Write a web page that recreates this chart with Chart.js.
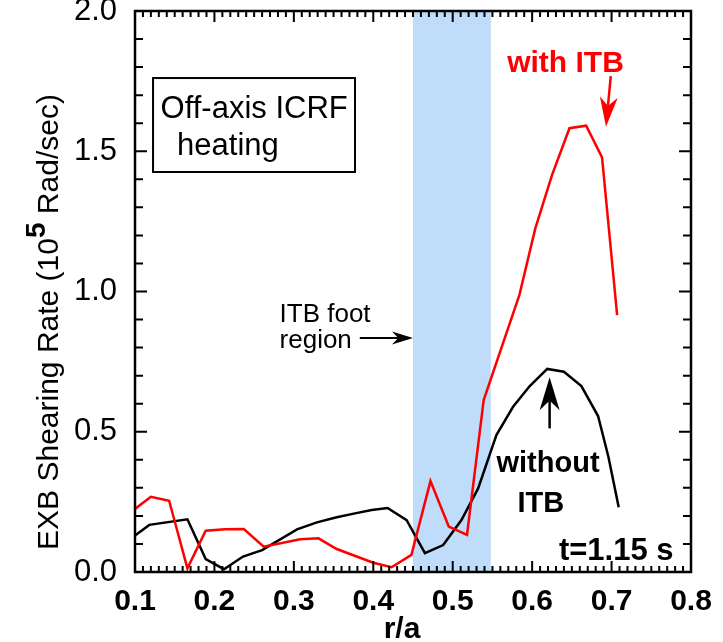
<!DOCTYPE html>
<html>
<head>
<meta charset="utf-8">
<script src="https://cdn.jsdelivr.net/npm/chart.js@4"></script>
<style>
  html, body { margin: 0; padding: 0; background: #fff; overflow: hidden; }
  #wrap { width: 723px; height: 642px; position: relative; }
</style>
</head>
<body>
<div id="wrap"><canvas id="chart"></canvas></div>
<script>
// EXB shearing rate profiles, with / without ITB (t=1.15 s)

const rWith = [0.100, 0.120, 0.143, 0.166, 0.189, 0.213, 0.237, 0.262, 0.308, 0.331, 0.354, 0.400, 0.423,
  0.448, 0.472, 0.495, 0.518, 0.539, 0.584, 0.604, 0.625, 0.647, 0.668, 0.688, 0.707];
const shearWith = [0.225, 0.268, 0.254, 0.013, 0.147, 0.152, 0.153, 0.090, 0.117, 0.120, 0.082, 0.033, 0.017,
  0.061, 0.324, 0.162, 0.132, 0.613, 0.988, 1.225, 1.415, 1.582, 1.591, 1.478, 0.916];

const rWithout = [0.100, 0.118, 0.166, 0.189, 0.212, 0.236, 0.260, 0.304, 0.329, 0.354, 0.377, 0.398, 0.418,
  0.442, 0.465, 0.488, 0.511, 0.532, 0.555, 0.576, 0.597, 0.619, 0.640, 0.662, 0.683, 0.696, 0.709];
const shearWithout = [0.130, 0.168, 0.188, 0.046, 0.010, 0.055, 0.078, 0.152, 0.177, 0.195, 0.209, 0.221, 0.228,
  0.185, 0.067, 0.096, 0.185, 0.298, 0.488, 0.589, 0.663, 0.724, 0.714, 0.663, 0.556, 0.411, 0.231];

// ITB foot region (r/a)
const footRegion = [0.45, 0.548];

const FONT = '"Liberation Sans", Arial, Helvetica, sans-serif';

function toPoints(xs, ys) {
  return xs.map((x, i) => ({ x, y: ys[i] }));
}

function arrow(ctx, x0, y0, x1, y1, len, half, color, lw) {
  const ang = Math.atan2(y1 - y0, x1 - x0);
  ctx.save();
  ctx.strokeStyle = color;
  ctx.fillStyle = color;
  ctx.lineWidth = lw;
  ctx.beginPath();
  ctx.moveTo(x0, y0);
  ctx.lineTo(x1 - Math.cos(ang) * len * 0.7, y1 - Math.sin(ang) * len * 0.7);
  ctx.stroke();
  ctx.translate(x1, y1);
  ctx.rotate(ang);
  ctx.beginPath();
  ctx.moveTo(0, 0);
  ctx.lineTo(-len, -half);
  ctx.lineTo(-len * 0.7, 0);
  ctx.lineTo(-len, half);
  ctx.closePath();
  ctx.fill();
  ctx.restore();
}

function text(ctx, str, x, y, font, color, align) {
  ctx.font = font;
  ctx.fillStyle = color || '#000';
  ctx.textAlign = align || 'center';
  ctx.textBaseline = 'alphabetic';
  ctx.fillText(str, x, y);
}

const decor = {
  id: 'decor',
  beforeDatasetsDraw(chart) {
    const { ctx, chartArea: a, scales: { x } } = chart;
    const x0 = x.getPixelForValue(footRegion[0]);
    const x1 = x.getPixelForValue(footRegion[1]);
    ctx.save();
    ctx.fillStyle = '#bfddfa';
    ctx.fillRect(x0, a.top, x1 - x0, a.bottom - a.top);
    ctx.restore();
  },
  afterDraw(chart) {
    const { ctx, chartArea: a, scales: { x, y } } = chart;
    const px = v => x.getPixelForValue(v);
    const py = v => y.getPixelForValue(v);
    ctx.save();

    // frame + inward ticks on all four sides
    ctx.strokeStyle = '#000';
    ctx.lineWidth = 2.5;
    ctx.strokeRect(a.left, a.top, a.right - a.left, a.bottom - a.top);
    ctx.lineWidth = 2;
    ctx.beginPath();
    for (let i = 0; i <= 70; i++) {
      const xp = px(0.1 + i * 0.01);
      const len = i % 10 === 0 ? 11 : 6;
      ctx.moveTo(xp, a.bottom); ctx.lineTo(xp, a.bottom - len);
      ctx.moveTo(xp, a.top); ctx.lineTo(xp, a.top + len);
    }
    for (let i = 0; i <= 20; i++) {
      const yp = py(i * 0.1);
      const len = i % 5 === 0 ? 12 : 8;
      ctx.moveTo(a.left, yp); ctx.lineTo(a.left + len, yp);
      ctx.moveTo(a.right, yp); ctx.lineTo(a.right - len, yp);
    }
    ctx.stroke();

    // y axis title with superscript
    const parts = [['EXB Shearing Rate (10', '30px ' + FONT, 0], ['5', 'bold 28px ' + FONT, -13], [' Rad/sec)', '30px ' + FONT, 0]];
    ctx.save();
    ctx.translate(58, 322);
    ctx.rotate(-Math.PI / 2);
    let total = 0;
    parts.forEach(p => { ctx.font = p[1]; total += ctx.measureText(p[0]).width; });
    let cx = -total / 2;
    ctx.fillStyle = '#000';
    ctx.textAlign = 'left';
    ctx.textBaseline = 'alphabetic';
    parts.forEach(p => { ctx.font = p[1]; ctx.fillText(p[0], cx, p[2]); cx += ctx.measureText(p[0]).width; });
    ctx.restore();

    // x axis title
    text(ctx, 'r/a', 402, 638, 'bold 30px ' + FONT);

    // heating box
    ctx.lineWidth = 2;
    const bx0 = px(0.1227), bx1 = px(0.377), by0 = py(1.761), by1 = py(1.426);
    ctx.strokeRect(bx0, by0, bx1 - bx0, by1 - by0);
    text(ctx, 'Off-axis ICRF', px(0.250), py(1.619), '31px ' + FONT);
    text(ctx, 'heating', px(0.217), py(1.487), '31px ' + FONT);

    // with ITB
    text(ctx, 'with ITB', px(0.642), py(1.783), 'bold 30px ' + FONT, '#ff0000');
    arrow(ctx, px(0.699), py(1.768), px(0.693), py(1.587), 30, 9, '#ff0000', 2.5);

    // without ITB
    text(ctx, 'without', px(0.620), py(0.357), 'bold 29px ' + FONT);
    text(ctx, 'ITB', px(0.611), py(0.214), 'bold 29px ' + FONT);
    arrow(ctx, px(0.622), py(0.512), px(0.622), py(0.694), 33, 10, '#000', 2.5);

    // ITB foot region
    text(ctx, 'ITB foot', px(0.282), py(0.891), '26px ' + FONT, '#000', 'left');
    text(ctx, 'region', px(0.282), py(0.799), '26px ' + FONT, '#000', 'left');
    arrow(ctx, px(0.383), py(0.834), px(0.450), py(0.834), 21, 6.5, '#000', 2);

    // time stamp
    text(ctx, 't=1.15 s', px(0.778), py(0.043), 'bold 31px ' + FONT, '#000', 'right');

    ctx.restore();
  }
};

new Chart(document.getElementById('chart'), {
  type: 'line',
  data: {
    datasets: [
      { label: 'with ITB', data: toPoints(rWith, shearWith), borderColor: '#ff0000', borderWidth: 2.5, pointRadius: 0, tension: 0, fill: false },
      { label: 'without ITB', data: toPoints(rWithout, shearWithout), borderColor: '#000000', borderWidth: 2.5, pointRadius: 0, tension: 0, fill: false },
    ],
  },
  options: {
    responsive: true,
    maintainAspectRatio: false,
    animation: false,
    events: [],
    layout: { padding: { left: 0, right: 32, top: 11, bottom: 0 } },
    plugins: { legend: { display: false }, tooltip: { enabled: false } },
    scales: {
      x: {
        type: 'linear',
        min: 0.1,
        max: 0.8,
        grid: { display: false },
        border: { display: false },
        ticks: {
          stepSize: 0.1,
          padding: 4,
          color: '#000',
          font: { family: FONT, size: 30, weight: 'bold' },
          callback: v => Number(v).toFixed(1),
        },
        afterFit(scale) { scale.height = 70; scale.paddingLeft = 0; scale.paddingRight = 0; },
      },
      y: {
        type: 'linear',
        min: 0,
        max: 2,
        grid: { display: false },
        border: { display: false },
        ticks: {
          stepSize: 0.5,
          padding: 10,
          color: '#000',
          font: { family: FONT, size: 31 },
          callback: v => Number(v).toFixed(1),
        },
        afterFit(scale) { scale.width = 135; scale.paddingTop = 0; scale.paddingBottom = 0; },
      },
    },
  },
  plugins: [decor],
});
</script>
</body>
</html>
